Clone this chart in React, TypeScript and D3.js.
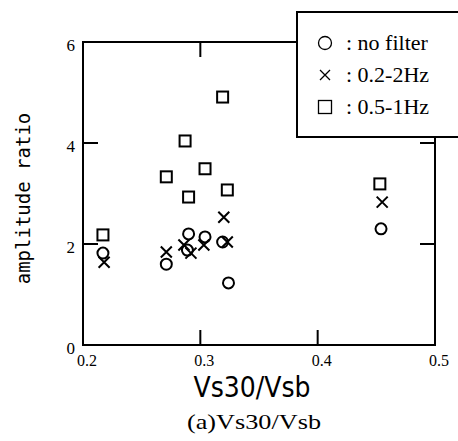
import React from "react";
import * as d3 from "d3";

const circleX = [0.217, 0.271, 0.289, 0.29, 0.304, 0.319, 0.324, 0.454];
const circleY = [1.82, 1.6, 1.88, 2.2, 2.14, 2.04, 1.23, 2.3];
const crossX = [0.218, 0.271, 0.286, 0.292, 0.303, 0.32, 0.323, 0.455];
const crossY = [1.64, 1.84, 1.98, 1.82, 1.98, 2.53, 2.04, 2.83];
const squareX = [0.217, 0.271, 0.287, 0.29, 0.304, 0.319, 0.323, 0.453];
const squareY = [2.18, 3.33, 4.04, 2.93, 3.49, 4.91, 3.07, 3.19];

const xTicks = [0.2, 0.3, 0.4, 0.5];
const yTicks = [0, 2, 4, 6];
const legendLabels = ["no filter", "0.2-2Hz", "0.5-1Hz"];

const W = 458;
const H = 441;

export default function App() {
  const x = d3.scaleLinear().domain([0.2, 0.5]).range([83, 435]);
  const y = d3.scaleLinear().domain([0, 6]).range([345, 42]);
  const [x0, x1] = x.range();
  const [y0, y1] = y.range();
  const legX = 297;
  const legY = 12;
  const legH = 125;
  const tl = 15;
  const sw = 2;
  const ms = 5.5;

  const serif = "'Liberation Serif', 'Times New Roman', serif";

  return (
    <svg
      width={W}
      height={H}
      style={{ position: "absolute", left: 0, top: 0, background: "#fff" }}
    >
      <rect x={0} y={0} width={W} height={H} fill="#fff" />
      {/* frame */}
      <g stroke="#000" strokeWidth={sw} fill="none">
        <line x1={x0} y1={y1} x2={x0} y2={y0} />
        <line x1={x0 - 1} y1={y0} x2={x1 + 1} y2={y0} />
        <line x1={x1} y1={legY + legH} x2={x1} y2={y0} />
        <line x1={x0 - 1} y1={y1} x2={legX} y2={y1} />
        {[2, 4].map((v) => (
          <line key={"l" + v} x1={x0} y1={y(v)} x2={x0 + tl} y2={y(v)} />
        ))}
        {[2, 4].map((v) => (
          <line key={"r" + v} x1={x1} y1={y(v)} x2={x1 - tl} y2={y(v)} />
        ))}
        {[0.3, 0.4].map((v) => (
          <line key={"b" + v} x1={x(v)} y1={y0} x2={x(v)} y2={y0 - tl} />
        ))}
        {[0.3].map((v) => (
          <line key={"t" + v} x1={x(v)} y1={y1} x2={x(v)} y2={y1 + tl} />
        ))}
      </g>
      {/* tick labels */}
      <g fontFamily={serif} fontSize={17} fill="#000">
        {yTicks.map((v) => (
          <text key={"yl" + v} x={x0 - 8} y={y(v) + 9} textAnchor="end">
            {v}
          </text>
        ))}
      </g>
      <g fontFamily={serif} fontSize={16} fill="#000">
        {xTicks.map((v) => (
          <text key={"xl" + v} x={x(v) + 4} y={y0 + 21} textAnchor="middle">
            {v.toFixed(1)}
          </text>
        ))}
      </g>
      {/* data */}
      <g stroke="#000" strokeWidth={sw} fill="none">
        {circleX.map((v, i) => (
          <circle key={"c" + i} cx={x(v)} cy={y(circleY[i])} r={ms} />
        ))}
        {crossX.map((v, i) => {
          const cx = x(v);
          const cy = y(crossY[i]);
          return (
            <path
              key={"x" + i}
              d={`M${cx - ms},${cy - ms}L${cx + ms},${cy + ms}M${cx - ms},${cy + ms}L${cx + ms},${cy - ms}`}
            />
          );
        })}
        {squareX.map((v, i) => (
          <rect
            key={"s" + i}
            x={x(v) - ms}
            y={y(squareY[i]) - ms}
            width={ms * 2}
            height={ms * 2}
          />
        ))}
      </g>
      {/* legend */}
      <rect
        x={legX}
        y={legY}
        width={W - legX + 10}
        height={legH}
        fill="#fff"
        stroke="#000"
        strokeWidth={sw}
      />
      <g stroke="#000" strokeWidth={1.3} fill="none">
        <circle cx={325} cy={43} r={6.5} />
        <path d="M320,70L330,80M320,80L330,70" />
        <rect x={318.5} y={100.5} width={13} height={13} />
      </g>
      <g fontFamily={serif} fontSize={22} fill="#000">
        {legendLabels.map((t, i) => (
          <text key={t} x={346} y={50 + i * 32}>
            {": " + t}
          </text>
        ))}
      </g>
      {/* axis titles */}
      <text
        transform={`translate(30,${(110 + 287) / 2}) rotate(-90)`}
        textAnchor="middle"
        fontFamily="'DejaVu Sans Mono', monospace"
        fontSize={19}
        fill="#000"
      >
        amplitude ratio
      </text>
      <text
        x={252}
        y={397}
        textAnchor="middle"
        fontFamily="'DejaVu Sans', sans-serif"
        fontSize={28}
        textLength={117}
        lengthAdjust="spacingAndGlyphs"
        fill="#000"
      >
        Vs30/Vsb
      </text>
      <text
        x={254}
        y={429}
        textAnchor="middle"
        fontFamily={serif}
        fontSize={22}
        textLength={134}
        lengthAdjust="spacingAndGlyphs"
        fill="#000"
      >
        (a)Vs30/Vsb
      </text>
    </svg>
  );
}
